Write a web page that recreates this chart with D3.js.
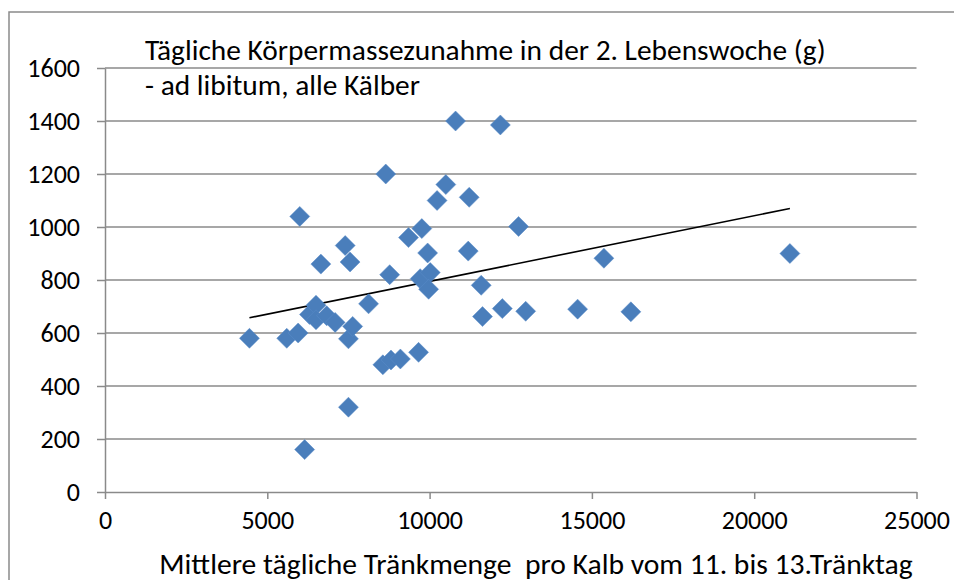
<!DOCTYPE html>
<html>
<head>
<meta charset="utf-8">
<style>
  body { margin: 0; background: #fff; }
  svg text { font-family: Carlito, Calibri, "Liberation Sans Narrow", "Open Sans", sans-serif; fill: #000; }
  .grid line { stroke: #8a8a8a; stroke-width: 1.5; }
  .axis path, .axis line { stroke: #8a8a8a; stroke-width: 1.5; }
  .dot { fill: #4a7ebb; stroke: #5b8cc8; stroke-width: 0.5; }
  .trend { fill: none; stroke: #000; stroke-width: 1.6; }
</style>
</head>
<body>
<script src="https://d3js.org/d3.v7.min.js"></script>
<div class="chart"></div>
<script>
// mean daily milk intake (x) vs daily weight gain in g (y)
var intake = [4450, 5600, 5950, 6000, 6150, 6300, 6500, 6500, 6650, 6830,
              7090, 7400, 7500, 7500, 7550, 7630, 8120, 8560, 8650, 8770,
              8810, 9100, 9350, 9660, 9760, 9710, 9940, 10020, 9970, 10230,
              10500, 10800, 11190, 11220, 11590, 11630, 12180, 12240, 12740, 12960,
              14560, 15370, 16200, 21100];
var gain = [580, 580, 600, 1040, 160, 670, 705, 650, 860, 665,
            640, 930, 578, 320, 868, 625, 710, 480, 1200, 820,
            498, 502, 960, 527, 994, 805, 902, 828, 765, 1100,
            1160, 1400, 909, 1112, 780, 662, 1385, 692, 1002, 682,
            690, 882, 680, 900];
var xTicks = [0, 5000, 10000, 15000, 20000, 25000];
var yTicks = [0, 200, 400, 600, 800, 1000, 1200, 1400, 1600];
var titleLines = ["Tägliche Körpermassezunahme in der 2. Lebenswoche (g)", "- ad libitum, alle Kälber"];
var xTitle = "Mittlere tägliche Tränkmenge  pro Kalb vom 11. bis 13.Tränktag";

var width = 954, height = 580;
var plotLeft = 105, plotRight = 916.5, plotTop = 68, plotBottom = 492;

var svg = d3.select(".chart").append("svg")
    .attr("width", width)
    .attr("height", height);

// chart border
svg.append("rect")
    .attr("x", 9).attr("y", 12)
    .attr("width", 1000).attr("height", 700)
    .attr("fill", "none").attr("stroke", "#8a8a8a").attr("stroke-width", 1.5);

var x = d3.scaleLinear().domain([0, 25000]).range([plotLeft, plotRight]);
var y = d3.scaleLinear().domain([0, 1600]).range([plotBottom, plotTop]);

// horizontal gridlines
svg.append("g").attr("class", "grid")
    .selectAll("line")
    .data(yTicks.slice(1))
    .enter().append("line")
    .attr("x1", plotLeft).attr("x2", plotRight)
    .attr("y1", function(d) { return y(d); })
    .attr("y2", function(d) { return y(d); });

// x axis
var xAxis = svg.append("g").attr("class", "axis")
    .attr("transform", "translate(0," + plotBottom + ")")
    .call(d3.axisBottom(x).tickValues(xTicks).tickSize(7).tickSizeOuter(0).tickPadding(12).tickFormat(d3.format("d")));
xAxis.selectAll("text").style("font-size", "26px");

// y axis
var yAxis = svg.append("g").attr("class", "axis")
    .attr("transform", "translate(" + plotLeft + ",0)")
    .call(d3.axisLeft(y).tickValues(yTicks).tickSize(8).tickSizeOuter(0).tickPadding(17).tickFormat(d3.format("d")));
yAxis.selectAll("text").style("font-size", "26px");
svg.selectAll(".axis").attr("font-family", null);

// trend line (least squares fit over the points)
var mx = d3.mean(intake), my = d3.mean(gain);
var sxy = d3.sum(intake, function(v, i) { return (v - mx) * (gain[i] - my); }),
    sxx = d3.sum(intake, function(v) { return (v - mx) * (v - mx); });
var slope = sxy / sxx, icpt = my - slope * mx;
svg.append("path")
    .datum(d3.extent(intake))
    .attr("class", "trend")
    .attr("d", d3.line()
        .x(function(d) { return x(d); })
        .y(function(d) { return y(icpt + slope * d); }));

// markers
svg.selectAll(".dot")
    .data(intake)
    .enter().append("path")
    .attr("class", "dot")
    .attr("d", "M0,-10L10,0L0,10L-10,0Z")
    .attr("transform", function(d, i) { return "translate(" + x(d) + "," + y(gain[i]) + ")"; });

// chart title
svg.selectAll(".title")
    .data(titleLines)
    .enter().append("text")
    .attr("class", "title")
    .attr("x", 145)
    .attr("y", function(d, i) { return 60 + i * 35; })
    .style("font-size", "29.4px")
    .text(function(d) { return d; });

// axis title
svg.append("text")
    .attr("x", 536)
    .attr("y", 574)
    .attr("text-anchor", "middle")
    .style("font-size", "29.6px")
    .style("white-space", "pre")
    .text(xTitle);
</script>
</body>
</html>
